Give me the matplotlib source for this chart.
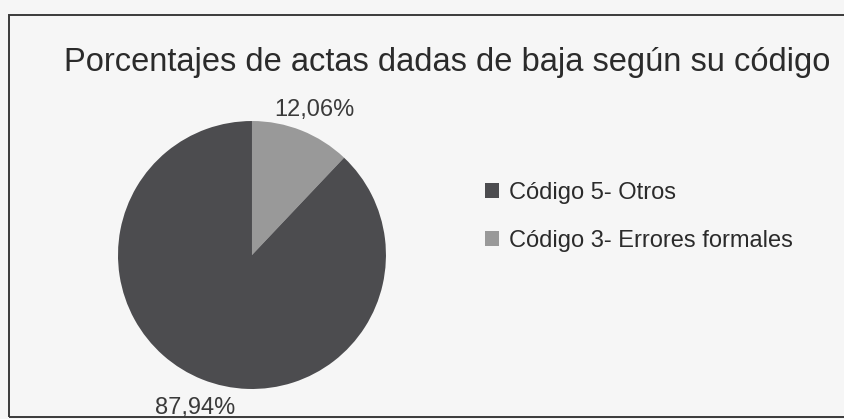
import matplotlib.pyplot as plt
from matplotlib.patches import Rectangle
from matplotlib.transforms import offset_copy

# data
categorias = ["Código 3- Errores formales", "Código 5- Otros"]
porcentajes = [12.06, 87.94]
colores = ["#999999", "#4c4c4f"]
titulo = "Porcentajes de actas dadas de baja según su código"

plt.rcParams['font.family'] = ['Liberation Sans', 'DejaVu Sans']

fig = plt.figure(figsize=(8.44, 4.19), dpi=100, facecolor="#f6f6f6")

# frame of the scanned chart box
fig.patches.append(Rectangle((0.0107, 0.005), 1.05, 0.959, transform=fig.transFigure,
                             fill=False, edgecolor="#3a3a3a", linewidth=1.4))

fig.text(0.530, 0.852, titulo, ha="center", va="center", fontsize=23.5, color="#2b2b2b")

ax = fig.add_axes([0.1398, 0.0716, 0.3175, 0.6396])
etiquetas = [f"{v:.2f}".replace(".", ",") + "%" for v in porcentajes]
wedges, texts = ax.pie(porcentajes, colors=colores, startangle=90, counterclock=False,
                       labels=etiquetas, labeldistance=1.2,
                       textprops={"fontsize": 17, "color": "#3a3a3a"})
for t in texts:
    t.set_ha("center")
    t.set_va("center")
    # labels sit a few pixels lower in the original
    t.set_transform(offset_copy(t.get_transform(), fig=fig, x=3, y=-4, units="dots"))
ax.set_xlim(-1, 1)
ax.set_ylim(-1, 1)
ax.set_aspect("equal")

# legend: Código 5 first, then Código 3
fig.legend([wedges[1], wedges[0]], [categorias[1], categorias[0]],
           loc="center left", bbox_to_anchor=(0.561, 0.482), frameon=False,
           borderpad=0, fontsize=17, labelspacing=1.1, handlelength=0.6,
           handleheight=0.6, handletextpad=0.4, labelcolor="#2b2b2b")

fig.savefig("out.png", dpi=100, facecolor=fig.get_facecolor())
